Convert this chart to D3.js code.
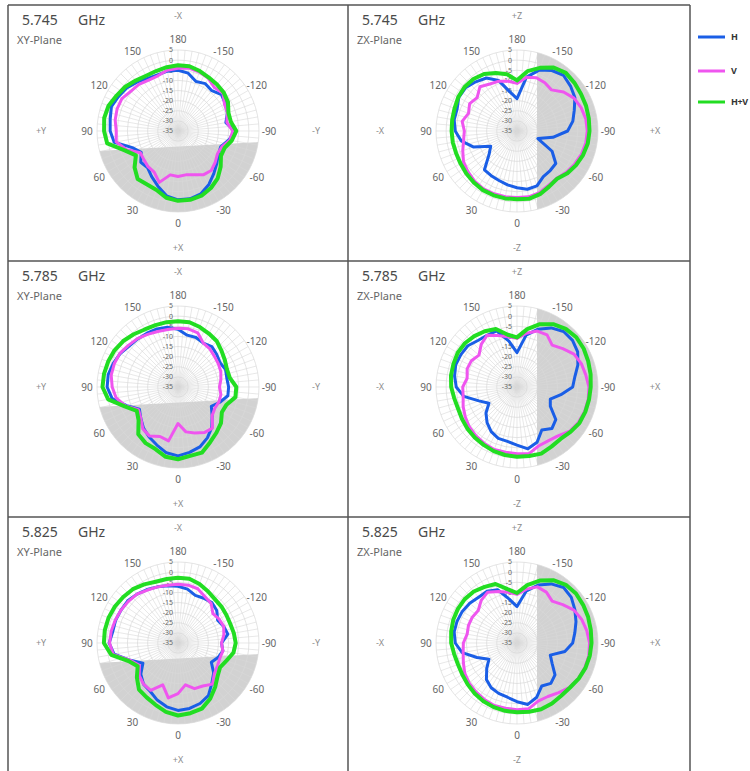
<!DOCTYPE html>
<html><head><meta charset="utf-8">
<script src="https://cdn.jsdelivr.net/npm/d3@7"></script>
<style>
html,body{margin:0;padding:0;background:#fff;}
svg{display:block;font-family:"Noto Sans","DejaVu Sans",sans-serif;}
</style></head><body>
<svg id="chart" width="750" height="771"></svg>
<script>
// ---------- data ----------
const ANGLES = [180,170,160,150,140,130,120,110,100,90,80,70,60,50,40,30,20,10,0,-10,-20,-30,-40,-50,-60,-70,-80,-90,-100,-110,-120,-130,-140,-150,-160,-170];
const FREQS = ["5.745", "5.785", "5.825"];
const RADIAL_TICKS = [5, 0, -5, -10, -15, -20, -25, -30, -35];
const ANGLE_TICKS = [180, 150, 120, 90, 60, 30, 0, -30, -60, -90, -120, -150];
const SERIES_NAMES = ["H", "V", "H+V"];
const XY_AXIS_LABELS = ["-X", "+X", "+Y", "-Y"];   // top, bottom, left, right
const ZX_AXIS_LABELS = ["+Z", "-Z", "-X", "+X"];

// XY-Plane, dB
const XY_5745_H  = [-5,-5,-5.5,-5,-3.5,-2,-1,0,-1,-1.5, -3,-11,-14,-11,-11.5,-9,-6,-2.5,-1, -1,-2,-4.5,-7.5,-10,-12,-12.5,-9.5,-7, -11,-9,-8,-7,-9,-8,-9,-6];
const XY_5745_V  = [-4,-4.5,-6,-6,-5,-4.5,-3,-3,-3.5,-4.5, -4,-8,-13.5,-13,-12,-11.5,-8,-13,-12.5, -13,-12,-10,-9.5,-11,-12.5,-12,-9,-8, -10.5,-9,-8.5,-6,-7,-5,-4,-3.5];
const XY_5745_HV = [-2.5,-3,-3.5,-3.5,-2.5,-1,0,1.5,2,1.5, 0.5,-7,-11,-7,-4,-4.5,-4,-1.5,-0.5, -0.5,-1,-2.5,-4.5,-7.5,-10.5,-10.5,-8,-6.2, -8.5,-8.5,-6.5,-5.5,-5,-4.5,-3.5,-2.5];

const XY_5785_H  = [-6.5,-5,-4.5,-4.3,-4,-3.5,-2,-1,0,0, -2,-8,-13,-11,-8.5,-6.5,-4.5,-2,-1, -2.2,-3.5,-6,-9,-13,-16,-13,-10,-10, -10.5,-10,-11,-10,-9,-10,-9,-9];
const XY_5785_V  = [-6,-6.2,-5.8,-5,-3.8,-3,-1.8,-1.5,-1.5,-2.5, -4,-7.5,-12.5,-11,-8,-7,-9,-8,-17, -12.5,-10.8,-9,-8.5,-13,-14,-13.5,-13.5,-14.5, -13.5,-12.5,-12,-11.5,-10.5,-10,-6.5,-5.8];
const XY_5785_HV = [-2.5,-2.5,-2.5,-2.2,-1,0.3,1.2,1.7,2.1,2.3, 0,-7,-11.5,-9.6,-4.5,-3,-2.4,0,0.7, -0.5,-0.5,-3.4,-5.5,-7.3,-10,-9.5,-6.2,-6.2, -9,-9.3,-8.3,-7,-5.3,-4.5,-3.5,-2.5];

const XY_5825_H  = [-7,-6.3,-5.5,-4.5,-3.5,-2.6,-2.5,-2.2,-2.3,-1, -3,-10,-15,-11,-8.5,-7.5,-5,-3,-1.7, -2.2,-3.2,-5,-9,-12,-16,-14,-12.5,-13.5, -10,-11,-12.4,-10,-9,-9.5,-10,-8];
const XY_5825_V  = [-6,-6,-5.5,-4.8,-3.5,-3,-2.5,-2,-1.5,-1.2, -2.5,-10,-13,-10,-8.5,-8,-13,-7.5,-10, -14,-11,-10.5,-8.5,-11.5,-12.5,-13,-12.5,-13.5, -12,-11,-11.5,-12.5,-9.5,-8.5,-6.5,-6];
const XY_5825_HV = [-2.8,-2.9,-2.8,-1.6,-0.3,0.3,1,1.5,1.7,1.6, -1.5,-9,-12,-8.5,-5,-4,-2.5,-0.5,0.8, 0.2,-0.5,-3.2,-6.5,-9.5,-11,-9.5,-7.2,-6.5, -7,-7.5,-7.4,-7,-6.7,-5.5,-4,-2.8];

// ZX-Plane, dB
const ZX_5745_H  = [-19,-15.5,-8.5,-4.8,-3.3,-1.8,-1.8,-3.5,-3.5,-4.5, -7,-12,-20,-17,-10,-9.5,-9,-8,-7, -5.8,-6.2,-9,-9.5,-10,-15,-24,-17,-10, -7,-4.9,-2,-0.5,0.8,-0.5,-3,-8];
const ZX_5745_V  = [-11.5,-10,-8.8,-8.2,-6.5,-9.3,-8,-9.5,-7.5,-9, -8.2,-6.5,-4.5,-3.5,-2.6,-2,-2,-2,-2.2, -2,-2.6,-4,-4.5,-3.2,-2.2,-1.2,-0.5,-0.3, -0.5,-1.3,-2.5,-5,-8.5,-7.5,-7,-8];
const ZX_5745_HV = [-10,-6.5,-4.5,-2.5,-1.5,-1.2,-1.5,-2.2,-2.5,-2.7, -2.8,-3,-2.8,-2.3,-1.8,-1.3,-1.2,-1.2,-1.3, -1,-1.8,-3.3,-4.2,-2.5,-1.3,-0.3,0.5,0.8, 1,1.3,1.5,2,2.5,1.2,-1.8,-5];

const ZX_5785_H  = [-18,-12,-5.5,-5.5,-5,-3.3,-3,-2.8,-3.7,-5, -8.3,-15,-19,-15,-12,-9.5,-8,-7.7,-6.3, -4,-6,-10.5,-8.2,-10,-16,-17.5,-13,-7.5, -6,-3,-0.4,0.8,0.8,-1.3,-4.6,-9];
const ZX_5785_V  = [-11,-9.8,-8,-5.5,-7.5,-10.5,-9,-8.8,-10,-8.2, -8,-6.7,-5.5,-4.3,-3.5,-2.8,-2.2,-2.3,-2, -1.5,-4,-4.3,-3.5,-1,0,0.5,0.7,0.5, -0.5,-1.2,-2.5,-5.5,-8,-5.3,-5.6,-8];
const ZX_5785_HV = [-10.5,-8.8,-4.5,-3.2,-2.2,-1.4,-1.2,-1.6,-1.9,-2.5, -3.5,-4,-3.6,-3,-2.5,-2,-1.3,-0.9,-0.6, -0.4,0,-1,-1.5,-0.5,0.6,0.9,1.1,1.4, 1.9,2.4,3,3.2,2.5,0.8,-2,-6];

const ZX_5825_H  = [-17,-13,-7,-5.5,-5.5,-4.5,-3.8,-3.5,-3.5,-4.5, -7.5,-14,-19,-15.5,-11.5,-9.5,-8.5,-7.8,-6, -4.2,-6.5,-10.5,-9,-10.5,-15,-17.5,-11,-7.5, -6,-4,-2,0,0.8,-1.3,-4.5,-9];
const ZX_5825_V  = [-11,-9.5,-8,-6,-7.5,-10,-9.5,-9.5,-10,-8.5, -8,-6.8,-5.2,-4.2,-3.5,-2.8,-2.2,-2.3,-2, -2,-4.5,-4.5,-3,-1,0,0.6,1,0.8, 0,-1,-2.5,-5.5,-8,-6,-5.5,-8];
const ZX_5825_HV = [-10.3,-8,-4,-3,-1.8,-1.3,-1.3,-1.5,-2,-2.5, -3.5,-4,-3.8,-3.2,-2.5,-1.8,-1.3,-1,-0.8, -0.5,-0.2,-0.5,-1,-0.8,0.2,1,1.5,1.8, 2,2.4,2.7,3,2.5,0.8,-2.2,-6];

// ---------- layout / style ----------
const COLORS = ["#1a5ee6", "#ef55ef", "#22dd22"];
const WIDTHS = [3, 3, 4];
const COLX = [8, 348];
const ROWY = [5, 261, 517];
const R = 81;

const svg = d3.select("#chart");
svg.append("rect").attr("width", 750).attr("height", 771).attr("fill", "#fff");

const rScale = d3.scaleLinear().domain([-35, 5]).range([0, R]).clamp(true);
// 180 at top, 90 at left, 0 at bottom, -90 at right
const angScale = d3.scaleLinear().domain([-180, 180]).range([-2 * Math.PI, 0]);
const radial = d3.lineRadial()
  .angle(d => angScale(d[0]))
  .radius(d => rScale(d[1]))
  .curve(d3.curveLinearClosed);

const panels = [
  {row:0, col:0, freq:FREQS[0], plane:"XY-Plane", axis:XY_AXIS_LABELS, shade:"xy", s:[XY_5745_H, XY_5745_V, XY_5745_HV]},
  {row:0, col:1, freq:FREQS[0], plane:"ZX-Plane", axis:ZX_AXIS_LABELS, shade:"zx", s:[ZX_5745_H, ZX_5745_V, ZX_5745_HV]},
  {row:1, col:0, freq:FREQS[1], plane:"XY-Plane", axis:XY_AXIS_LABELS, shade:"xy", s:[XY_5785_H, XY_5785_V, XY_5785_HV]},
  {row:1, col:1, freq:FREQS[1], plane:"ZX-Plane", axis:ZX_AXIS_LABELS, shade:"zx", s:[ZX_5785_H, ZX_5785_V, ZX_5785_HV]},
  {row:2, col:0, freq:FREQS[2], plane:"XY-Plane", axis:XY_AXIS_LABELS, shade:"xy", s:[XY_5825_H, XY_5825_V, XY_5825_HV]},
  {row:2, col:1, freq:FREQS[2], plane:"ZX-Plane", axis:ZX_AXIS_LABELS, shade:"zx", s:[ZX_5825_H, ZX_5825_V, ZX_5825_HV]}
];

const defs = svg.append("defs");
defs.append("clipPath").attr("id", "circ").append("circle").attr("r", R);

const spokes = d3.range(0, 360, 5);

panels.forEach((p) => {
  const x0 = COLX[p.col], y0 = ROWY[p.row];
  const cx = x0 + (p.col === 0 ? 170 : 169), cy = y0 + 126;
  const g = svg.append("g");

  // titles
  g.append("text").attr("x", x0 + 14).attr("y", y0 + 15).attr("dy", "0.35em")
    .attr("font-size", 14).attr("fill", "#4a4a4a").text(p.freq);
  g.append("text").attr("x", x0 + 70).attr("y", y0 + 15).attr("dy", "0.35em")
    .attr("font-size", 14).attr("fill", "#4a4a4a").text("GHz");
  g.append("text").attr("x", x0 + 9).attr("y", y0 + 35).attr("dy", "0.35em")
    .attr("font-size", 11).attr("fill", "#666").text(p.plane);

  // axis direction labels
  const ax = [[cx, y0 + 11], [cx, y0 + 243], [cx - 137, cy], [cx + 138, cy]];
  ax.forEach((pt, k) => {
    g.append("text").attr("x", pt[0]).attr("y", pt[1]).attr("dy", "0.35em")
      .attr("text-anchor", "middle").attr("font-size", 9).attr("fill", "#8c8c8c").text(p.axis[k]);
  });

  const pg = g.append("g").attr("transform", `translate(${cx},${cy})`);

  // shaded region
  const shadePts = p.shade === "xy"
    ? [[-R - 2, 20], [R + 2, 11], [R + 2, R + 2], [-R - 2, R + 2]]
    : [[20, -R - 2], [R + 2, -R - 2], [R + 2, R + 2], [20, R + 2]];
  pg.append("path").attr("d", "M" + shadePts.map(d => d.join(",")).join("L") + "Z")
    .attr("fill", "#d2d2d2").attr("clip-path", "url(#circ)");

  // grid
  pg.selectAll(".spoke").data(spokes).join("line")
    .attr("x1", 0).attr("y1", 0)
    .attr("x2", d => R * Math.sin(angScale(d)))
    .attr("y2", d => -R * Math.cos(angScale(d)))
    .attr("stroke", "#d9d9d9").attr("stroke-width", 0.6);
  pg.selectAll(".ring").data(RADIAL_TICKS.filter(v => v > -35)).join("circle")
    .attr("r", d => rScale(d)).attr("fill", "none")
    .attr("stroke", "#d9d9d9").attr("stroke-width", 0.7);

  // radial tick labels
  pg.selectAll(".rl").data(RADIAL_TICKS).join("text")
    .attr("x", -5).attr("y", d => -rScale(d)).attr("dy", "0.35em")
    .attr("text-anchor", "end").attr("font-size", 7).attr("fill", "#666").text(d => d);

  // angle labels
  pg.selectAll(".al").data(ANGLE_TICKS).join("text")
    .attr("x", d => 91 * Math.sin(angScale(d)))
    .attr("y", d => -92 * Math.cos(angScale(d)))
    .attr("dy", "0.35em").attr("text-anchor", "middle")
    .attr("font-size", 10).attr("fill", "#666").text(d => d);

  // series
  p.s.forEach((vals, si) => {
    const pts = ANGLES.map((a, i) => [a, vals[i]]);
    pg.append("path").attr("d", radial(pts))
      .attr("fill", "none").attr("stroke", COLORS[si])
      .attr("stroke-width", WIDTHS[si]).attr("stroke-linejoin", "round");
  });
});

// table borders
const bc = "#555";
[8, 348, 690].forEach(x => svg.append("line").attr("x1", x).attr("x2", x).attr("y1", 5).attr("y2", 771)
  .attr("stroke", bc).attr("stroke-width", 1.5));
[5, 261, 517].forEach(y => svg.append("line").attr("x1", 8).attr("x2", 690).attr("y1", y).attr("y2", y)
  .attr("stroke", bc).attr("stroke-width", 1.5));

// legend
const LEG_Y = [37, 71, 102];
SERIES_NAMES.forEach((n, i) => {
  svg.append("line").attr("x1", 698).attr("x2", 725).attr("y1", LEG_Y[i]).attr("y2", LEG_Y[i])
    .attr("stroke", COLORS[i]).attr("stroke-width", 3);
  svg.append("text").attr("x", 731).attr("y", LEG_Y[i]).attr("dy", "0.35em")
    .attr("font-size", 9).attr("font-weight", "bold").attr("letter-spacing", -0.4)
    .attr("fill", "#333").text(n);
});
</script></body></html>
